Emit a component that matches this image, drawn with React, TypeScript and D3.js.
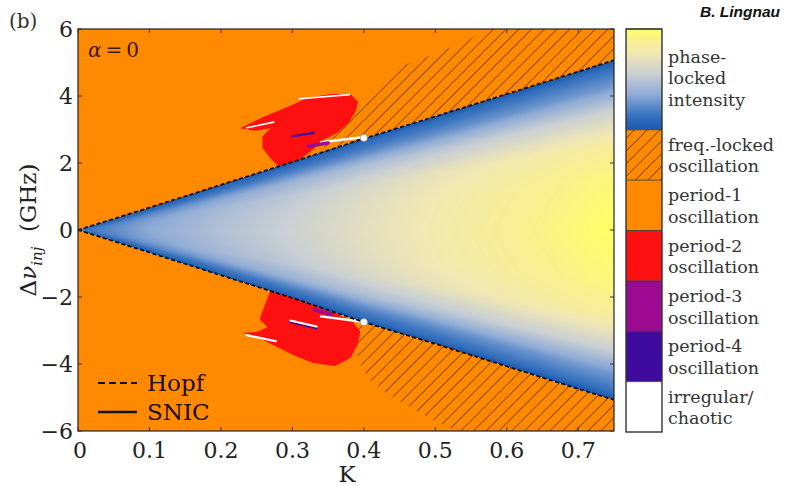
import { useMemo } from "react";
import * as d3 from "d3";

const WIDTH = 786;
const HEIGHT = 486;
const PLOT = { left: 78, right: 614, top: 29, bottom: 431 };

// axes
const kTicks = [0, 0.1, 0.2, 0.3, 0.4, 0.5, 0.6, 0.7];
const kTickLabels = ["0", "0.1", "0.2", "0.3", "0.4", "0.5", "0.6", "0.7"];
const nuTicks = [-6, -4, -2, 0, 2, 4, 6];

// locking boundary (Hopf line)
const boundaryK = [0, 0.1, 0.2, 0.3, 0.4, 0.5, 0.6, 0.7, 0.75];
const boundaryUpper = [0, 0.67, 1.35, 2.03, 2.73, 3.39, 4.06, 4.73, 5.07];
const boundaryLower = [0, -0.67, -1.35, -2.03, -2.75, -3.4, -4.07, -4.74, -5.07];

// phase-locked intensity, sampled on (K, |dnu| / boundary)
const gridK = [0, 0.1, 0.2, 0.3, 0.4, 0.5, 0.6, 0.7, 0.75];
const gridR = [0, 0.3, 0.5, 0.7, 0.85, 0.95, 1];
const intensity = [
  [0.12, 0.35, 0.47, 0.57, 0.68, 0.78, 0.87, 0.96, 1.0],
  [0.12, 0.33, 0.45, 0.55, 0.66, 0.76, 0.84, 0.92, 0.95],
  [0.1, 0.3, 0.42, 0.51, 0.61, 0.7, 0.77, 0.83, 0.85],
  [0.07, 0.22, 0.32, 0.4, 0.46, 0.5, 0.54, 0.56, 0.57],
  [0.04, 0.12, 0.17, 0.2, 0.22, 0.24, 0.26, 0.28, 0.28],
  [0.02, 0.06, 0.08, 0.1, 0.11, 0.12, 0.13, 0.14, 0.14],
  [0, 0, 0, 0, 0, 0, 0, 0, 0],
];
const cmapStops = [0, 0.15, 0.35, 0.55, 0.75, 0.9, 1];
const cmapColors = ["#1a58ae", "#3a74c0", "#8fabd6", "#c9cfd4", "#f1e7b4", "#faf08c", "#ffff66"];

// frequency-locked (hatched) regions
const hatchUpperK = [0.346, 0.374, 0.391, 0.409, 0.44, 0.472, 0.507, 0.545, 0.577, 0.75, 0.75, 0.34];
const hatchUpperNu = [2.6, 3.13, 3.73, 4.18, 4.78, 5.07, 5.31, 5.67, 6, 6, 4.5, 2.0];
const hatchLowerK = [0.375, 0.388, 0.392, 0.405, 0.43, 0.465, 0.5, 0.53, 0.75, 0.75, 0.34];
const hatchLowerNu = [-2.8, -3.3, -3.9, -4.4, -4.85, -5.3, -5.7, -6, -6, -4.5, -2.0];

// period-2 regions
const p2UpperK = [0.227, 0.259, 0.293, 0.321, 0.353, 0.381, 0.392, 0.388, 0.378, 0.363, 0.343, 0.328, 0.304, 0.283, 0.269, 0.258, 0.258, 0.269, 0.248];
const p2UpperNu = [3.04, 3.37, 3.67, 3.94, 4.06, 4.06, 3.82, 3.52, 3.19, 2.9, 2.69, 2.39, 2.0, 1.85, 2.15, 2.45, 2.78, 3.04, 2.96];
const p2LowerK = [0.255, 0.27, 0.293, 0.325, 0.353, 0.385, 0.395, 0.391, 0.381, 0.36, 0.329, 0.301, 0.273, 0.259, 0.231, 0.251, 0.265, 0.255];
const p2LowerNu = [-2.6, -1.75, -1.95, -2.15, -2.4, -2.75, -3.04, -3.43, -3.82, -4.06, -3.97, -3.73, -3.43, -3.28, -3.07, -3.04, -2.9, -2.69];

// thin streaks by regime (drawn in this order)
const streakRegime = ["white", "white", "white", "p4", "p3", "white", "white", "p4", "white", "p3"];
const streakK1 = [0.31, 0.236, 0.34, 0.3, 0.322, 0.236, 0.34, 0.297, 0.297, 0.33];
const streakNu1 = [3.92, 3.05, 2.62, 2.8, 2.5, -3.14, -2.58, -2.76, -2.7, -2.38];
const streakK2 = [0.38, 0.274, 0.398, 0.33, 0.35, 0.277, 0.398, 0.334, 0.334, 0.355];
const streakNu2 = [4.04, 3.22, 2.77, 2.9, 2.6, -3.32, -2.74, -2.95, -2.88, -2.52];
const streakW = [1.6, 1.6, 2.4, 2.2, 3.5, 2.2, 2.4, 1.6, 2, 3.5];

const markerK = [0.4, 0.4];
const markerNu = [2.75, -2.75];

const regimeColors: Record<string, string> = {
  orange: "#ff8a00",
  p2: "#ff1010",
  p3: "#9c0a92",
  p4: "#3f0a9e",
  white: "#ffffff",
};

const legendLabels = [
  ["phase-", "locked", "intensity"],
  ["freq.-locked", "oscillation"],
  ["period-1", "oscillation"],
  ["period-2", "oscillation"],
  ["period-3", "oscillation"],
  ["period-4", "oscillation"],
  ["irregular/", "chaotic"],
];
const legendFills = ["gradient", "hatch", "orange", "p2", "p3", "p4", "white"];
const legendSlots = [2, 1, 1, 1, 1, 1, 1];

const SERIF = "'DejaVu Serif', serif";

const x = d3.scaleLinear().domain([0, 0.75]).range([PLOT.left, PLOT.right]);
const y = d3.scaleLinear().domain([-6, 6]).range([PLOT.bottom, PLOT.top]);

function polyPath(ks: number[], nus: number[]) {
  const line = d3.line<number>().x((_, i) => x(ks[i])).y((_, i) => y(nus[i]));
  return line(ks) + "Z";
}

function renderField() {
  const w = PLOT.right - PLOT.left;
  const h = PLOT.bottom - PLOT.top;
  const canvas = document.createElement("canvas");
  canvas.width = w;
  canvas.height = h;
  const ctx = canvas.getContext("2d");
  if (!ctx) return "";
  const img = ctx.createImageData(w, h);
  const up = d3.scaleLinear().domain(boundaryK).range(boundaryUpper);
  const lo = d3.scaleLinear().domain(boundaryK).range(boundaryLower);
  const rows = intensity.map((row) => d3.scaleLinear().domain(gridK).range(row).clamp(true));
  const cmap = d3
    .scaleLinear<string>()
    .domain(cmapStops)
    .range(cmapColors)
    .interpolate(d3.interpolateRgb)
    .clamp(true);
  const lut = d3.range(256).map((i) => d3.rgb(cmap(i / 255)));
  for (let i = 0; i < w; i++) {
    const k = x.invert(PLOT.left + i + 0.5);
    const col = d3.scaleLinear().domain(gridR).range(rows.map((s) => s(k))).clamp(true);
    const bu = up(k);
    const bl = lo(k);
    if (bu <= 0) continue;
    for (let j = 0; j < h; j++) {
      const v = y.invert(PLOT.top + j + 0.5);
      const r = v >= 0 ? v / bu : v / bl;
      if (!(r <= 1)) continue;
      const c = lut[Math.max(0, Math.min(255, Math.round(col(r) * 255)))];
      const p = (j * w + i) * 4;
      img.data[p] = c.r;
      img.data[p + 1] = c.g;
      img.data[p + 2] = c.b;
      img.data[p + 3] = 255;
    }
  }
  ctx.putImageData(img, 0, 0);
  return canvas.toDataURL();
}

export default function App() {
  const field = useMemo(() => renderField(), []);

  const upperPath = d3.line<number>().x((k) => x(k)).y((_, i) => y(boundaryUpper[i]))(boundaryK);
  const lowerPath = d3.line<number>().x((k) => x(k)).y((_, i) => y(boundaryLower[i]))(boundaryK);

  const cbX = 626;
  const cbW = 36;
  const slotH = (PLOT.bottom - PLOT.top + 1) / 8;
  let slotStart = 0;
  const legend = legendLabels.map((lines, i) => {
    const top = PLOT.top + slotStart * slotH;
    const hgt = legendSlots[i] * slotH;
    slotStart += legendSlots[i];
    return { lines, top, hgt, fill: legendFills[i] };
  });

  return (
    <svg
      width={WIDTH}
      height={HEIGHT}
      style={{ position: "absolute", left: 0, top: 0, background: "#fff" }}
    >
      <defs>
        <pattern id="hatch" patternUnits="userSpaceOnUse" width={9} height={9} patternTransform="rotate(45)">
          <line x1={0} y1={0} x2={0} y2={9} stroke="#4a2000" strokeWidth={1.2} />
        </pattern>
        <clipPath id="plotClip">
          <rect x={PLOT.left} y={PLOT.top} width={PLOT.right - PLOT.left} height={PLOT.bottom - PLOT.top} />
        </clipPath>
        <linearGradient id="cbar" x1="0" y1="1" x2="0" y2="0">
          {cmapStops.map((s, i) => (
            <stop key={i} offset={s} stopColor={cmapColors[i]} />
          ))}
        </linearGradient>
      </defs>

      <g clipPath="url(#plotClip)">
        <rect
          x={PLOT.left}
          y={PLOT.top}
          width={PLOT.right - PLOT.left}
          height={PLOT.bottom - PLOT.top}
          fill={regimeColors.orange}
        />
        <path d={polyPath(hatchUpperK, hatchUpperNu)} fill="url(#hatch)" />
        <path d={polyPath(hatchLowerK, hatchLowerNu)} fill="url(#hatch)" />
        <path d={polyPath(p2UpperK, p2UpperNu)} fill={regimeColors.p2} />
        <path d={polyPath(p2LowerK, p2LowerNu)} fill={regimeColors.p2} />
        {streakK1.map((k, i) => (
          <line
            key={i}
            x1={x(k)}
            y1={y(streakNu1[i])}
            x2={x(streakK2[i])}
            y2={y(streakNu2[i])}
            stroke={regimeColors[streakRegime[i]]}
            strokeWidth={streakW[i]}
            strokeLinecap="round"
          />
        ))}
        {field && (
          <image
            href={field}
            x={PLOT.left}
            y={PLOT.top}
            width={PLOT.right - PLOT.left}
            height={PLOT.bottom - PLOT.top}
          />
        )}
        <path d={upperPath ?? ""} fill="none" stroke="#111" strokeWidth={1.8} strokeDasharray="4,2.5" />
        <path d={lowerPath ?? ""} fill="none" stroke="#111" strokeWidth={1.8} strokeDasharray="4,2.5" />
        {markerK.map((k, i) => (
          <circle key={i} cx={x(k)} cy={y(markerNu[i])} r={3.6} fill="#fff" stroke="#777" strokeWidth={0.6} />
        ))}
      </g>

      {/* frame and ticks */}
      <rect
        x={PLOT.left}
        y={PLOT.top}
        width={PLOT.right - PLOT.left}
        height={PLOT.bottom - PLOT.top}
        fill="none"
        stroke="#222"
        strokeWidth={1.2}
      />
      {kTicks.map((k) => (
        <g key={"kt" + k} stroke="#333" strokeWidth={1}>
          <line x1={x(k)} x2={x(k)} y1={PLOT.bottom} y2={PLOT.bottom - 4} />
          <line x1={x(k)} x2={x(k)} y1={PLOT.top} y2={PLOT.top + 4} />
        </g>
      ))}
      {nuTicks.map((v) => (
        <g key={"nt" + v} stroke="#333" strokeWidth={1}>
          <line x1={PLOT.left} x2={PLOT.left + 4} y1={y(v)} y2={y(v)} />
          <line x1={PLOT.right} x2={PLOT.right - 4} y1={y(v)} y2={y(v)} />
        </g>
      ))}

      {/* tick labels */}
      <g fontFamily={SERIF} fontSize={22} fill="#222">
        {kTicks.map((k, i) => (
          <text key={"kl" + k} x={x(k) + (i === 0 ? 2 : 0)} y={PLOT.bottom + 27} textAnchor="middle">
            {kTickLabels[i]}
          </text>
        ))}
        {nuTicks.map((v) => (
          <text key={"nl" + v} x={PLOT.left - 5} y={y(v) + 8} textAnchor="end">
            {v < 0 ? "\u2212" + Math.abs(v) : String(v)}
          </text>
        ))}
        <text x={347} y={482} textAnchor="middle" fontSize={23}>
          K
        </text>
        <text transform="translate(36,230) rotate(-90)" textAnchor="middle" fontSize={23}>
          Δ<tspan fontStyle="italic">ν</tspan>
          <tspan fontStyle="italic" fontSize={15} dy={6}>
            inj
          </tspan>
          <tspan dy={-6}>{"\u00a0\u00a0(GHz)"}</tspan>
        </text>
      </g>

      {/* annotations */}
      <text x={9} y={28} fontFamily={SERIF} fontSize={20} fill="#333">
        (b)
      </text>
      <text x={88} y={57} fontFamily={SERIF} fontSize={20} fill="#3a1a00">
        <tspan fontStyle="italic">α</tspan>
        <tspan>{"\u2009=\u20090"}</tspan>
      </text>
      <g fontFamily={SERIF} fontSize={23} fill="#1a0a00">
        <line x1={98} x2={137} y1={383} y2={383} stroke="#111" strokeWidth={2} strokeDasharray="7,4" />
        <text x={147} y={391}>
          Hopf
        </text>
        <line x1={98} x2={137} y1={412} y2={412} stroke="#111" strokeWidth={2.4} />
        <text x={147} y={420}>
          SNIC
        </text>
      </g>
      <text
        x={700}
        y={17}
        fontFamily="'Liberation Sans', Arial, sans-serif"
        fontWeight="bold"
        fontStyle="italic"
        fontSize={15.5}
        fill="#111"
      >
        B. Lingnau
      </text>

      {/* colorbar legend */}
      {legend.map((s, i) => (
        <g key={"lg" + i}>
          {s.fill === "gradient" ? (
            <rect x={cbX} y={s.top} width={cbW} height={s.hgt} fill="url(#cbar)" />
          ) : s.fill === "hatch" ? (
            <g>
              <rect x={cbX} y={s.top} width={cbW} height={s.hgt} fill={regimeColors.orange} />
              <rect x={cbX} y={s.top} width={cbW} height={s.hgt} fill="url(#hatch)" />
            </g>
          ) : (
            <rect x={cbX} y={s.top} width={cbW} height={s.hgt} fill={regimeColors[s.fill]} />
          )}
          <line x1={cbX} x2={cbX + cbW} y1={s.top} y2={s.top} stroke="#333" strokeWidth={0.8} />
          <g fontFamily={SERIF} fontSize={17.5} fill="#333">
            {s.lines.map((t, j) => {
              const c = s.top + s.hgt / 2;
              const base =
                s.lines.length === 3 ? c - 16.5 + j * 21.5 : c - 4 + j * 21.5;
              return (
                <text key={j} x={668} y={base}>
                  {t}
                </text>
              );
            })}
          </g>
        </g>
      ))}
      <rect
        x={cbX}
        y={PLOT.top}
        width={cbW}
        height={PLOT.bottom - PLOT.top + 1}
        fill="none"
        stroke="#333"
        strokeWidth={1.4}
      />
    </svg>
  );
}
